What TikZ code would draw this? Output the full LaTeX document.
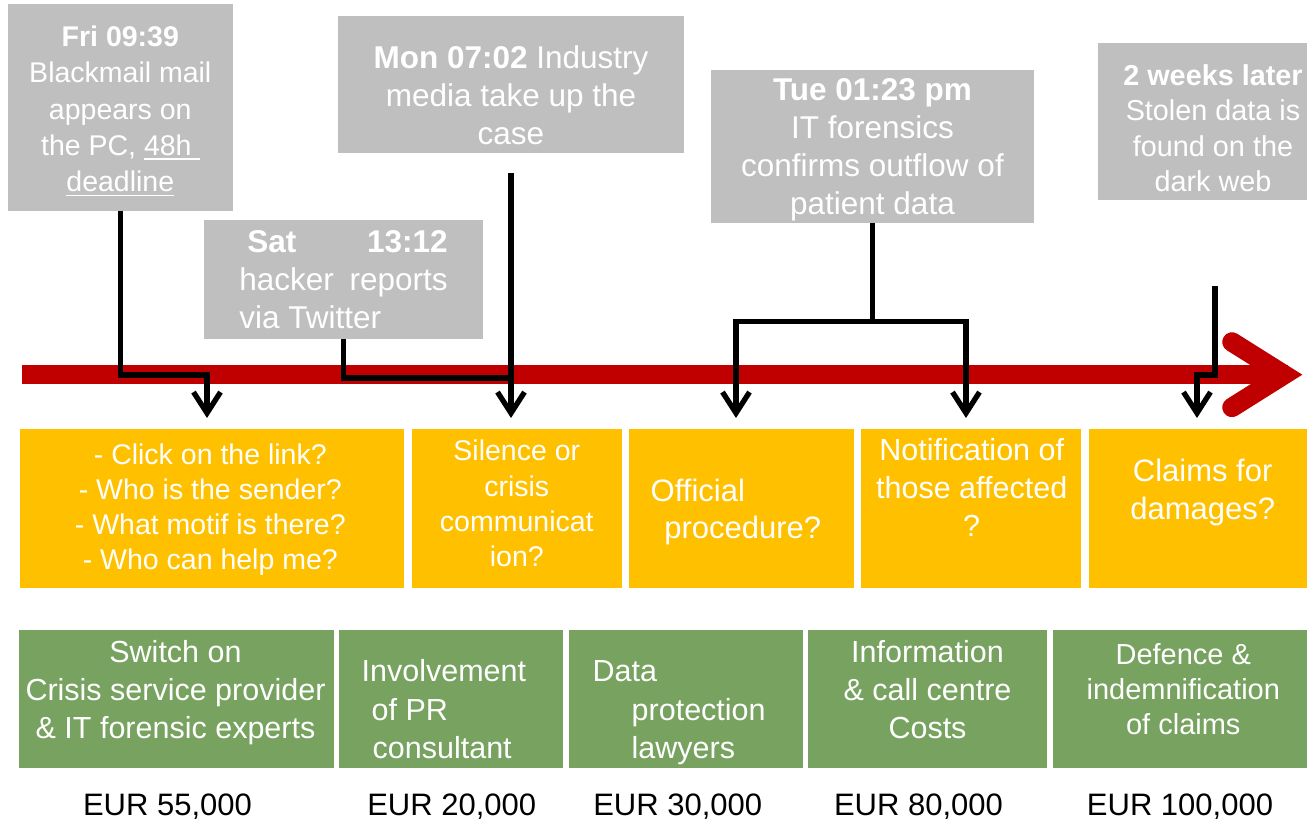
\documentclass[tikz,border=0pt]{standalone}
\usepackage{fontspec}
\setmainfont{Liberation Sans}
\usetikzlibrary{arrows.meta}
\definecolor{slate}{RGB}{191,191,191}
\definecolor{amber}{RGB}{255,192,0}
\definecolor{moss}{RGB}{119,162,95}
\definecolor{crimson}{RGB}{192,0,0}
% underline drawn as a rule just below the baseline
\newcommand\ulbox[1]{\setbox0\hbox{#1}\rlap{\rule[-4.6pt]{\wd0}{1.6pt}}\box0}
\newcommand\fs[2]{\fontsize{#1}{#2}\selectfont}

\begin{document}
\begin{tikzpicture}[x=1pt,y=-1pt,
  panel/.style={draw=none,inner sep=0pt,outer sep=0pt,anchor=north west},
  event/.style={panel,fill=slate},
  issue/.style={panel,fill=amber},
  cost/.style={panel,fill=moss},
  caption/.style={inner sep=0pt,outer sep=0pt,text=white,anchor=north,align=center},
  leftcap/.style={inner sep=0pt,outer sep=0pt,text=white,anchor=north west,align=left},
  price/.style={inner sep=0pt,anchor=base,font=\fs{31}{37}},
  link/.style={line width=5.3pt,draw=black},
  headed/.style={-{Straight Barb[length=21pt,width=27pt]}},
  timeline/.style={draw=crimson,line width=19.3pt}
]
\fill[white] (0,0) rectangle (1307,821);
\clip (0,0) rectangle (1307,821);

% ---- event boxes (grey) ----
\node[event,minimum width=224.7pt,minimum height=207pt] (fri) at (8,4) {};
\node[event,minimum width=345.7pt,minimum height=136.7pt] (mon) at (338.3,16) {};
\node[event,minimum width=278.7pt,minimum height=119.3pt] (sat) at (204,220) {};
\node[event,minimum width=323pt,minimum height=153.5pt] (tue) at (711,70) {};
\node[event,minimum width=222pt,minimum height=157.3pt] (wk) at (1098.3,42.7) {};

\node[caption,font=\fs{28.5}{36.2}] (friT) at (120.3,21.4)
  {\strut\textbf{Fri 09:39}\\Blackmail mail\\appears on\\the PC, \ulbox{48h\ }\\\ulbox{deadline}};
\node[caption,font=\fs{31.5}{38}] (monT) at (511,41.7)
  {\strut\textbf{Mon 07:02} Industry\\media take up the\\case};
\node[inner sep=0pt,outer sep=0pt,text=white,anchor=north west,font=\fs{31.5}{38}] (satT) at (239.3,225.7)
  {\parbox[t]{208.4pt}{\strut\hspace*{8pt}\textbf{Sat} \textbf{13:12}\linebreak hacker reports\linebreak via Twitter}};
\node[caption,font=\fs{31.5}{38.3}] (tueT) at (872.5,73.2)
  {\strut\textbf{Tue 01:23 pm}\\IT forensics\\confirms outflow of\\patient data};
\node[caption,font=\fs{28.8}{35.5}] (wkT) at (1213,60.2)
  {\strut\textbf{2 weeks later}\\Stolen data is\\found on the\\dark web};

% ---- timeline ----
\coordinate (lineS) at (22.3,374.7);
\coordinate (lineE) at (1288,374.7);
\draw[timeline] (lineS) -- (lineE);
\draw[crimson,line width=19.5pt,line cap=round,line join=miter]
  (1232,342) -- (1284,374.7) -- (1232,407.4);

% ---- question boxes (amber) ----
\node[issue,minimum width=384pt,minimum height=158.7pt] (o1) at (20,429) {};
\node[issue,minimum width=209.7pt,minimum height=158.7pt] (o2) at (412,429) {};
\node[issue,minimum width=224.5pt,minimum height=158.7pt] (o3) at (629,429) {};
\node[issue,minimum width=220pt,minimum height=158.7pt] (o4) at (861,429) {};
\node[issue,minimum width=231pt,minimum height=158.7pt] (o5) at (1089,429) {};

\node[caption,font=\fs{28.5}{35}] (o1T) at (210.3,439.8)
  {\strut- Click on the link?\\- Who is the sender?\\- What motif is there?\\- Who can help me?};
\node[caption,font=\fs{28.5}{35.3}] (o2T) at (516.8,436)
  {\strut Silence or\\crisis\\communicat\\ion?};
\node[leftcap,font=\fs{31}{37.3}] (o3T) at (650.7,474.9)
  {\strut Official\\\hspace*{13.6pt}procedure?};
\node[caption,font=\fs{30.5}{38}] (o4T) at (971.7,434.1)
  {\strut Notification of\\those affected\\?};
\node[caption,font=\fs{31}{38}] (o5T) at (1202.7,454.4)
  {\strut Claims for\\damages?};

% ---- measure boxes (green) ----
\node[cost,minimum width=315pt,minimum height=137.7pt] (g1) at (19,630) {};
\node[cost,minimum width=224pt,minimum height=137.7pt] (g2) at (339,630) {};
\node[cost,minimum width=233.7pt,minimum height=137.7pt] (g3) at (569,630) {};
\node[cost,minimum width=238.7pt,minimum height=137.7pt] (g4) at (808,630) {};
\node[cost,minimum width=266.7pt,minimum height=137.7pt] (g5) at (1053.3,630) {};

\node[caption,font=\fs{30.5}{38}] (g1T) at (175.5,635.7)
  {\strut Switch on\\Crisis service provider\\\& IT forensic experts};
\node[leftcap,font=\fs{30.5}{38.3}] (g2T) at (361.7,655.1)
  {\strut Involvement\\\hspace*{10pt}of PR\\\hspace*{11pt}consultant};
\node[leftcap,font=\fs{30.5}{38.3}] (g3T) at (592.7,655.1)
  {\strut Data\\\hspace*{39pt}protection\\\hspace*{39pt}lawyers};
\node[caption,font=\fs{30.5}{38}] (g4T) at (927.5,635.7)
  {\strut Information\\\& call centre\\Costs};
\node[caption,font=\fs{29}{34.7}] (g5T) at (1183.3,640.7)
  {\strut Defence \&\\indemnification\\of claims};

% ---- costs ----
\node[price] (p1) at (167.5,815) {EUR 55,000};
\node[price] (p2) at (451.7,815) {EUR 20,000};
\node[price] (p3) at (677.7,815) {EUR 30,000};
\node[price] (p4) at (918.5,815) {EUR 80,000};
\node[price] (p5) at (1180,815) {EUR 100,000};

% ---- connectors ----
\coordinate (fA) at (207,375);
\coordinate (fT) at (207,418);
\draw[link,headed] (fri.south) |- (fA) -- (fT);

\coordinate (sA) at (511,378);
\draw[link] (sat.south) |- (sA);

\coordinate (mA) at (511,173);
\coordinate (mT) at (511,418);
\draw[link,headed] (mA) -- (mT);

\coordinate (tA) at (872.5,321.7);
\coordinate (tL) at (736,418);
\coordinate (tR) at (966,418);
\draw[link] (tue.south) -- (tA);
\draw[link,headed] (tA) -| (tL);
\draw[link,headed] (tA) -| (tR);

\coordinate (wA) at (1215,286);
\coordinate (wB) at (1215,375);
\coordinate (wT) at (1197,418);
\draw[link,headed] (wA) -- (wB) -| (wT);
\end{tikzpicture}
\end{document}
